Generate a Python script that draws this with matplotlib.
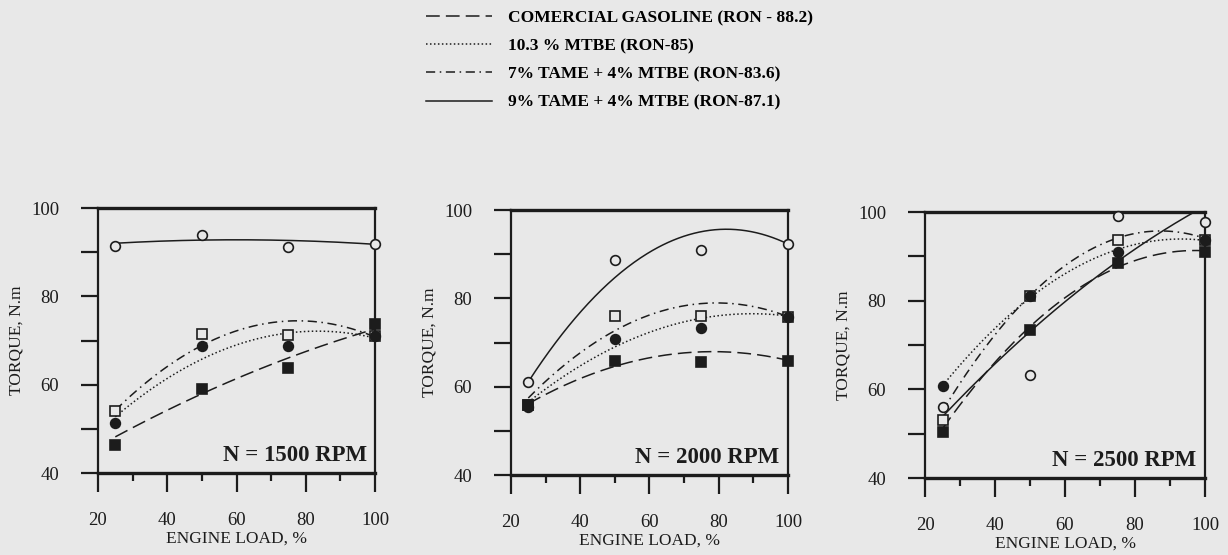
import numpy as np
import matplotlib.pyplot as plt
from matplotlib.lines import Line2D
from matplotlib.ticker import MultipleLocator

# engine load steps where torque was measured (%)
loads = [25, 50, 75, 100]
rpm_labels = ["N = 1500 RPM", "N = 2000 RPM", "N = 2500 RPM"]

# measured torque (N.m), one row per engine speed
gasoline_pts = [[46.3, 59.0, 63.7, 73.7], [55.8, 65.9, 65.7, 65.8], [50.4, 73.4, 88.5, 91.0]]
mtbe_pts = [[51.3, 68.8, 68.8, 71.1], [55.5, 70.8, 73.3, 75.8], [60.7, 81.0, 91.0, 93.7]]
tame7_pts = [[54.0, 71.5, 71.2, 71.0], [55.8, 76.0, 76.0, 75.8], [53.1, 81.0, 93.7, 93.7]]
tame9_pts = [[91.5, 93.9, 91.2, 91.8], [61.0, 88.6, 91.0, 92.4], [56.0, 63.2, 99.2, 97.7]]

# trend curve readings at the same load steps
gasoline_fit = [[48.0, 58.5, 65.5, 72.8], [56.0, 65.0, 67.5, 66.1], [51.4, 73.4, 88.3, 91.0]]
mtbe_fit = [[52.5, 66.5, 71.0, 70.8], [56.5, 69.0, 75.5, 76.0], [60.7, 81.0, 91.2, 93.7]]
tame7_fit = [[54.0, 69.5, 73.8, 71.0], [57.5, 72.5, 79.0, 75.8], [55.2, 81.0, 94.3, 94.0]]
tame9_fit = [[92.0, 92.8, 92.6, 91.8], [61.0, 85.0, 94.8, 92.4], [53.7, 73.5, 88.4, 101.5]]

fuel_names = ["COMERCIAL GASOLINE (RON - 88.2)", "10.3 % MTBE (RON-85)",
              "7% TAME + 4% MTBE (RON-83.6)", "9% TAME + 4% MTBE (RON-87.1)"]

paper = "#e8e8e8"
ink = "#1c1c1c"
plt.rcParams["font.family"] = ["Liberation Serif", "DejaVu Serif"]

line_styles = [(0, (9, 4)), (0, (1, 1.6)), (0, (6, 3, 1, 3)), "-"]
marker_styles = [("s", ink), ("o", ink), ("s", paper), ("o", paper)]
pts_sets = [gasoline_pts, mtbe_pts, tame7_pts, tame9_pts]
fit_sets = [gasoline_fit, mtbe_fit, tame7_fit, tame9_fit]

fig = plt.figure(figsize=(12.28, 5.55), dpi=100, facecolor=paper)
boxes = [[0.0798, 0.1477, 0.2256, 0.4775],
         [0.4161, 0.1441, 0.2256, 0.4775],
         [0.7533, 0.1387, 0.2280, 0.4793]]

xs = np.linspace(25, 100, 200)
for k, box in enumerate(boxes):
    ax = fig.add_axes(box)
    ax.set_facecolor(paper)
    ax.set_xlim(20, 100)
    ax.set_ylim(40, 100)

    # smooth trend curves
    for s in range(4):
        coef = np.polyfit(loads, fit_sets[s][k], 2)
        ax.plot(xs, np.polyval(coef, xs), color=ink, lw=1.1, ls=line_styles[s])

    # measured points, hollow ones first so filled ones sit on top
    for s in [3, 2, 1, 0]:
        mk, face = marker_styles[s]
        ax.plot(loads, pts_sets[s][k], ls="none", marker=mk, ms=7,
                mfc=face, mec=ink, mew=1.2, clip_on=False, zorder=3)

    ax.text(0.97, 0.025, rpm_labels[k], transform=ax.transAxes, ha="right",
            va="bottom", fontsize=16.5, fontweight="bold", color=ink)

    for side in ["top", "bottom"]:
        ax.spines[side].set_linewidth(2.4)
    for side in ["left", "right"]:
        ax.spines[side].set_linewidth(1.6)
    for sp in ax.spines.values():
        sp.set_color(ink)

    ax.xaxis.set_major_locator(MultipleLocator(20))
    ax.xaxis.set_minor_locator(MultipleLocator(10))
    ax.yaxis.set_major_locator(MultipleLocator(20))
    ax.yaxis.set_minor_locator(MultipleLocator(10))
    ax.tick_params(axis="x", which="major", direction="out", length=14, width=1.6,
                   pad=14, labelsize=13.5, colors=ink)
    ax.tick_params(axis="x", which="minor", direction="out", length=6, width=1.6, colors=ink)
    ax.tick_params(axis="y", which="both", direction="out", length=12, width=1.6,
                   pad=16, labelsize=13.5, colors=ink)

    ax.set_xlabel("ENGINE LOAD, %", fontsize=12.5, color=ink, labelpad=1)
    ax.set_ylabel("TORQUE, N.m", fontsize=12.5, color=ink, labelpad=5)

handles = [Line2D([], [], color=ink, lw=1.1, ls=line_styles[s]) for s in range(4)]
fig.legend(handles, fuel_names, loc="upper left", bbox_to_anchor=(417 / 1228, 0.998),
           frameon=False, handlelength=3.8, handletextpad=0.95,
           labelspacing=0.7, borderpad=0, prop={"weight": "bold", "size": 12.5})

fig.savefig("out.png", dpi=100, facecolor=paper)
